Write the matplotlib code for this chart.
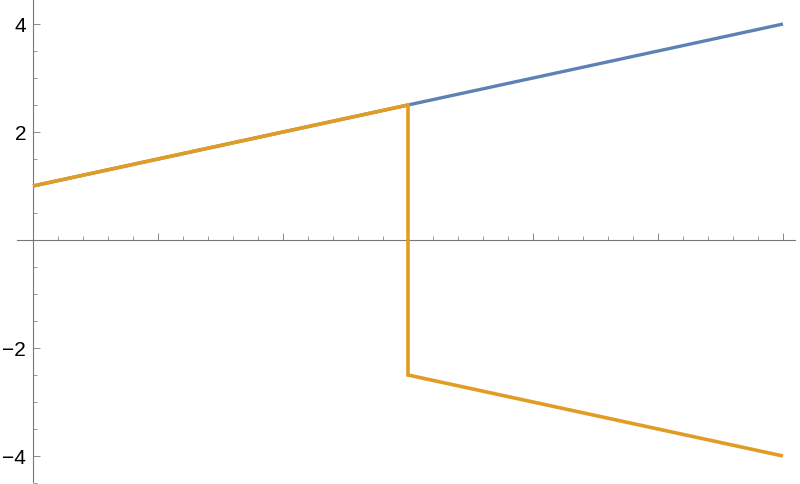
import matplotlib
matplotlib.use("Agg")
import matplotlib.pyplot as plt
from matplotlib.ticker import MultipleLocator, FixedLocator

# Data
blue_x = [0, 3, 6]
blue_y = [1, 2.5, 4]
orange_x = [0, 3, 3, 6]
orange_y = [1, 2.5, -2.5, -4]
y_major = [-4, -2, 2, 4]
y_labels = ["\u22124", "\u22122", "2", "4"]
x_major = [1, 2, 3, 4, 5, 6]
x_minor = [i / 5 for i in range(1, 31)]

plt.rcParams['font.family'] = ['Liberation Sans', 'DejaVu Sans']

fig = plt.figure(figsize=(8, 4.85), dpi=100)
ax = fig.add_axes([0, 0, 1, 1])

ax.plot(blue_x, blue_y, color='#5E81B5', lw=2.4, solid_capstyle='butt', zorder=3)
ax.plot(orange_x, orange_y, color='#E19C24', lw=2.6, solid_capstyle='butt',
        solid_joinstyle='miter', zorder=4)

ax.set_xlim(-33/125, (800-33)/125)
ax.set_ylim((241-485)/54, 241/54)

for s in ['top', 'right']:
    ax.spines[s].set_visible(False)
ax.spines['left'].set_position(('data', 0))
ax.spines['bottom'].set_position(('data', 0))
for s in ['left', 'bottom']:
    ax.spines[s].set_color('#777777')
    ax.spines[s].set_linewidth(0.8)
ax.spines['bottom'].set_bounds(-0.128, 6.096)
ax.spines['left'].set_bounds(-4.48, 241/54)

ax.set_yticks(y_major)
ax.set_yticklabels(y_labels)
ax.yaxis.set_minor_locator(MultipleLocator(0.5))
ax.xaxis.set_major_locator(FixedLocator(x_major))
ax.xaxis.set_minor_locator(FixedLocator(x_minor))
ax.tick_params(axis='x', which='both', direction='in', labelbottom=False, color='#888888')
ax.tick_params(axis='x', which='major', length=5, width=0.7)
ax.tick_params(axis='x', which='minor', length=3, width=0.6)
ax.tick_params(axis='y', which='both', direction='in', color='#888888')
ax.tick_params(axis='y', which='major', length=5, width=0.7, labelsize=15, pad=5)
ax.tick_params(axis='y', which='minor', length=3, width=0.6)

fig.savefig('out.png', dpi=100)
